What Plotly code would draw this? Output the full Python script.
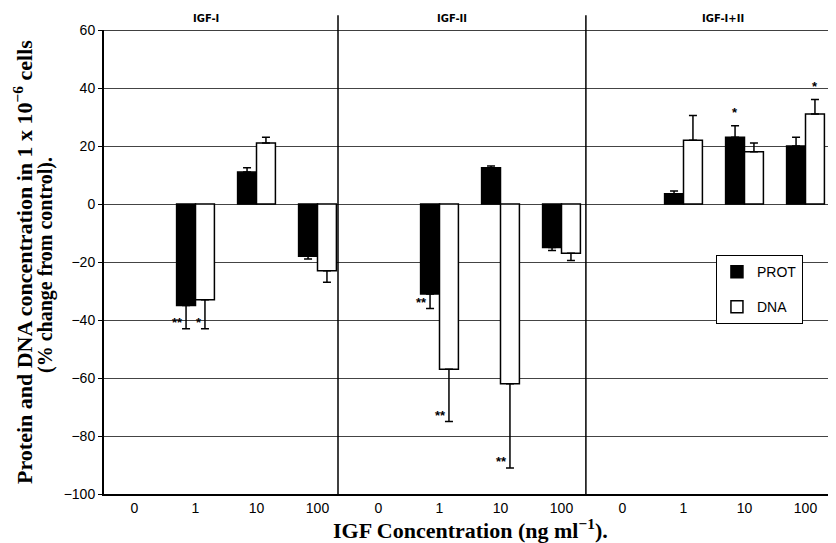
import plotly.graph_objects as go

groups = ["IGF-I", "IGF-II", "IGF-I+II"]
concentrations = ["0", "1", "10", "100"]

prot_values = [None, -35, 11, -18, None, -31, 12.5, -15, None, 3.5, 23, 20]
prot_err = [None, 8, 1.5, 1, None, 5, 0.6, 1, None, 1, 4, 3]
dna_values = [None, -33, 21, -23, None, -57, -62, -17, None, 22, 18, 31]
dna_err = [None, 10, 2, 4, None, 18, 29, 2.5, None, 8.5, 3, 5]

# significance marks: (category index, series, text)
sig_marks = [(1, "PROT", "**"), (1, "DNA", "*"), (5, "PROT", "**"), (5, "DNA", "**"),
             (6, "DNA", "**"), (10, "PROT", "*"), (11, "DNA", "*")]

y_title_lines = ["Protein and DNA concentration in 1 x 10<sup>\u22126</sup> cells",
                 "(% change from control)."]
x_title = "IGF Concentration (ng ml<sup>\u22121</sup>)."

n = len(groups) * len(concentrations)
xpos = list(range(n))
ticktext = concentrations * len(groups)


def split_err(vals, errs):
    plus, minus = [], []
    for v, e in zip(vals, errs):
        if v is None:
            plus.append(0); minus.append(0)
        elif v >= 0:
            plus.append(e); minus.append(0)
        else:
            plus.append(0); minus.append(e)
    return plus, minus


fig = go.Figure()
for name, vals, errs, color, grp in [("PROT", prot_values, prot_err, "black", "a"),
                                      ("DNA", dna_values, dna_err, "white", "b")]:
    p, m = split_err(vals, errs)
    fig.add_trace(go.Bar(
        x=xpos, y=vals, name=name, legendgroup=grp,
        marker=dict(color=color, line=dict(color="black", width=1.5)),
        error_y=dict(type="data", symmetric=False, array=p, arrayminus=m,
                     color="black", thickness=1.5, width=4),
    ))

bar_off = 0.155
annotations = []
for idx, series, txt in sig_marks:
    vals, errs = (prot_values, prot_err) if series == "PROT" else (dna_values, dna_err)
    v, e = vals[idx], errs[idx]
    xc = idx - bar_off if series == "PROT" else idx + bar_off
    if v < 0:
        annotations.append(dict(x=xc, y=v - e, text="<b>" + txt + "</b>", showarrow=False, xanchor="right",
                                yanchor="middle", xshift=-1, yshift=6,
                                font=dict(family="Liberation Sans", size=13, color="black")))
    else:
        annotations.append(dict(x=xc, y=v + e, text="<b>" + txt + "</b>", showarrow=False, xanchor="center",
                                yanchor="bottom", yshift=4,
                                font=dict(family="Liberation Sans", size=13, color="black")))

title_x = [1.18, 5.21, 9.64]
for g, tx in zip(groups, title_x):
    annotations.append(dict(x=tx, y=1.024, xref="x", yref="paper",
                            text="<b>" + g + "</b>", showarrow=False, yanchor="middle",
                            font=dict(family="DejaVu Sans", size=10, color="black")))

for line, xs, ys, fs in zip(y_title_lines, [-81, -59], [0, -3], [22, 20]):
    annotations.append(dict(x=0, y=0.5, xref="paper", yref="paper", xshift=xs, yshift=ys,
                            text="<b>" + line + "</b>", showarrow=False, textangle=-90,
                            xanchor="center", yanchor="middle",
                            font=dict(family="Liberation Serif", size=fs, color="black")))

annotations.append(dict(x=0.5, y=0, xref="paper", yref="paper", yshift=-35,
                        text="<b>" + x_title + "</b>", showarrow=False,
                        xanchor="center", yanchor="middle",
                        font=dict(family="Liberation Serif", size=22, color="black")))

shapes = []
for sx in [3.336, 7.40]:
    shapes.append(dict(type="line", xref="x", yref="paper", x0=sx, x1=sx, y0=0, y1=1.032,
                       line=dict(color="black", width=1.5)))
shapes.append(dict(type="line", xref="paper", yref="y", x0=0, x1=1, y0=60, y1=60,
                   line=dict(color="black", width=1.5)))

# page body has an 8px margin, so the figure is sized/offset to land on the 836x543 frame
fig.update_layout(
    width=828, height=535,
    margin=dict(l=96, r=0, t=22, b=49),
    paper_bgcolor="white", plot_bgcolor="white",
    barmode="group", bargap=0.38, bargroupgap=0,
    showlegend=True,
    legend=dict(x=0.836, y=0.515, xanchor="left", yanchor="top",
                bgcolor="white", bordercolor="black", borderwidth=1,
                traceorder="grouped", tracegroupgap=14, itemwidth=30,
                font=dict(family="Liberation Sans", size=14, color="black")),
    annotations=annotations, shapes=shapes,
    xaxis=dict(range=[-0.5, n - 0.5], tickmode="array", tickvals=xpos, ticktext=ticktext,
               automargin=False,
               showgrid=False, zeroline=False, showline=True, linecolor="black", linewidth=1.5,
               ticks="", tickfont=dict(family="Liberation Sans", size=14, color="black")),
    yaxis=dict(range=[-100, 60], tickmode="linear", dtick=20, showgrid=True, automargin=False,
               gridcolor="#444", gridwidth=1, zeroline=True, zerolinecolor="#444", zerolinewidth=1,
               showline=True, linecolor="black", linewidth=2, ticks="outside", ticklen=4,
               tickcolor="black", tickfont=dict(family="Liberation Sans", size=14, color="black")),
)

fig.write_html("out.html")
